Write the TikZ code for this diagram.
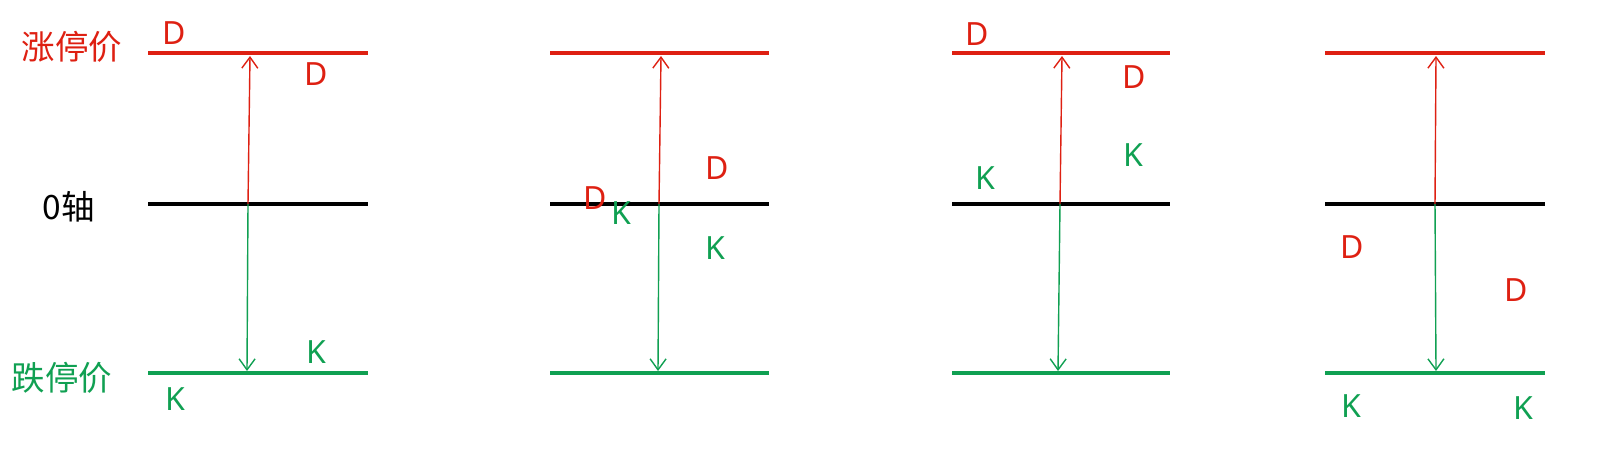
\documentclass[tikz,border=0pt]{standalone}
\usepackage{fontspec}
\setmainfont{Noto Sans CJK SC}
\newfontfamily\latinlab{Noto Sans}
\usetikzlibrary{arrows.meta}
\definecolor{upred}{RGB}{222,32,18}
\definecolor{dngreen}{RGB}{16,160,82}
\begin{document}
\begin{tikzpicture}[x=1pt,y=-1pt,
  lvl/.style={line width=4.5pt},
  arr/.style={line width=1.4pt,-{Straight Barb[length=11pt,width=16pt,line width=1.4pt]}},
  lab/.style={font=\latinlab\fontsize{32}{32}\selectfont, inner sep=0pt, anchor=base, yshift=-11.4pt},
  cjk/.style={font=\fontsize{33.5}{33.5}\selectfont, inner sep=0pt, anchor=center},
  dl/.style={lab, text=upred},
  kl/.style={lab, text=dngreen}]
\useasboundingbox (0,0) rectangle (1608,459);
% level lines
\foreach \a/\b/\i in {148/368/1, 550/769/2, 952/1170/3, 1325/1545/4}{
  \draw[lvl,upred] (\a,53) -- (\b,53);
  \draw[lvl,black] (\a,204) -- (\b,204);
  \draw[lvl,dngreen] (\a,373) -- (\b,373);
}
% left labels
\node[cjk,text=upred] (zt) at (72,47) {涨停价};
\node[cjk,text=black] (zero) at (69,207) {0轴};
\node[cjk,text=dngreen] (dt) at (62,378) {跌停价};
% arrows
\coordinate (o1) at (248,204); \coordinate (u1) at (250,56); \coordinate (d1) at (247,371);
\coordinate (o2) at (659,204); \coordinate (u2) at (661,56); \coordinate (d2) at (658,371);
\coordinate (o3) at (1060,204); \coordinate (u3) at (1062,56); \coordinate (d3) at (1058,371);
\coordinate (o4) at (1435,204); \coordinate (u4) at (1436,56); \coordinate (d4) at (1436,371);
\foreach \i in {1,2,3,4}{
  \draw[arr,upred] (o\i) -- (u\i);
  \draw[arr,dngreen] (o\i) -- (d\i);
}
% panel 1
\node[dl] (p1d1) at (174,33) {D};
\node[dl] (p1d2) at (316,74) {D};
\node[kl] (p1k1) at (316,352) {K};
\node[kl] (p1k2) at (175,399) {K};
% panel 2
\node[dl] (p2d1) at (717,168) {D};
\node[dl] (p2d2) at (595,198) {D};
\node[kl] (p2k1) at (621,213) {K};
\node[kl] (p2k2) at (715,248) {K};
% panel 3
\node[dl] (p3d1) at (977,34) {D};
\node[dl] (p3d2) at (1134,77) {D};
\node[kl] (p3k1) at (1133,155) {K};
\node[kl] (p3k2) at (985,178) {K};
% panel 4
\node[dl] (p4d1) at (1352,247) {D};
\node[dl] (p4d2) at (1516,290) {D};
\node[kl] (p4k1) at (1351,406) {K};
\node[kl] (p4k2) at (1523,408) {K};
\end{tikzpicture}
\end{document}
